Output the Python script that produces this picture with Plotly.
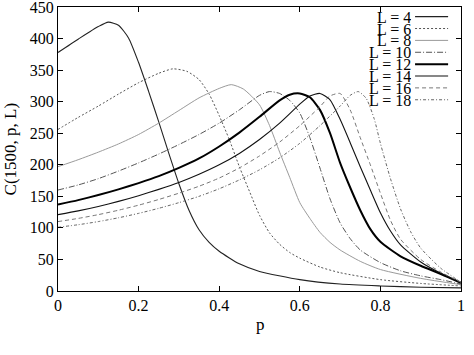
import plotly.graph_objects as go

# ---- data ----
L_values = [4, 6, 8, 10, 12, 14, 16, 18]

p4 = [0, 0.05, 0.1, 0.125, 0.15, 0.175, 0.2, 0.225, 0.25, 0.275, 0.3, 0.325, 0.35, 0.375, 0.4, 0.45, 0.5, 0.6, 0.7, 0.8, 0.9, 1.0]
C4 = [378, 399, 419, 426, 421, 401, 362, 316, 268, 218, 170, 128, 97, 77, 63, 43, 31, 18, 11, 8, 6, 5]

p6 = [0, 0.05, 0.1, 0.15, 0.2, 0.25, 0.285, 0.32, 0.35, 0.375, 0.4, 0.425, 0.45, 0.475, 0.5, 0.525, 0.55, 0.575, 0.6, 0.65, 0.7, 0.8, 0.9, 1.0]
C6 = [256, 275, 293, 312, 330, 345, 352, 348, 335, 312, 278, 240, 197, 158, 120, 92, 74, 61, 52, 38, 29, 18, 12, 8]

p8 = [0, 0.05, 0.1, 0.15, 0.2, 0.25, 0.3, 0.35, 0.4, 0.43, 0.46, 0.5, 0.525, 0.55, 0.575, 0.6, 0.625, 0.65, 0.675, 0.7, 0.75, 0.8, 0.9, 1.0]
C8 = [197, 208, 220, 233, 248, 266, 286, 306, 321, 327, 320, 295, 262, 220, 180, 140, 115, 93, 77, 65, 47, 34, 20, 10]

p10 = [0, 0.05, 0.1, 0.15, 0.2, 0.25, 0.3, 0.35, 0.4, 0.45, 0.5, 0.525, 0.55, 0.575, 0.6, 0.625, 0.65, 0.675, 0.7, 0.725, 0.75, 0.8, 0.85, 0.9, 0.95, 1.0]
C10 = [160, 168, 178, 190, 203, 217, 232, 248, 266, 287, 310, 316, 313, 302, 282, 243, 195, 146, 108, 83, 65, 45, 32, 24, 18, 11]

p12 = [0, 0.05, 0.1, 0.15, 0.2, 0.25, 0.3, 0.35, 0.4, 0.45, 0.5, 0.55, 0.575, 0.6, 0.625, 0.65, 0.675, 0.7, 0.725, 0.75, 0.775, 0.8, 0.85, 0.9, 0.95, 1.0]
C12 = [137, 144, 152, 161, 171, 182, 195, 210, 229, 251, 276, 302, 311, 313, 307, 287, 250, 203, 164, 128, 98, 78, 55, 40, 27, 13]

p14 = [0, 0.05, 0.1, 0.15, 0.2, 0.25, 0.3, 0.35, 0.4, 0.45, 0.5, 0.55, 0.6, 0.625, 0.65, 0.675, 0.7, 0.725, 0.75, 0.775, 0.8, 0.825, 0.85, 0.9, 0.95, 1.0]
C14 = [121, 127, 134, 142, 151, 161, 172, 185, 200, 218, 240, 266, 296, 309, 313, 303, 272, 235, 197, 160, 124, 95, 73, 46, 28, 13]

p16 = [0, 0.05, 0.1, 0.15, 0.2, 0.25, 0.3, 0.35, 0.4, 0.45, 0.5, 0.55, 0.6, 0.65, 0.675, 0.7, 0.725, 0.75, 0.775, 0.8, 0.825, 0.85, 0.9, 0.95, 1.0]
C16 = [110, 115, 121, 128, 136, 145, 155, 166, 179, 195, 214, 236, 262, 292, 309, 313, 287, 243, 200, 155, 112, 82, 50, 30, 14]

p18 = [0, 0.05, 0.1, 0.15, 0.2, 0.25, 0.3, 0.35, 0.4, 0.45, 0.5, 0.55, 0.6, 0.65, 0.7, 0.725, 0.745, 0.765, 0.785, 0.8, 0.825, 0.85, 0.875, 0.9, 0.95, 1.0]
C18 = [101, 105, 110, 116, 123, 131, 140, 150, 162, 176, 192, 211, 234, 262, 293, 310, 316, 305, 272, 234, 178, 130, 94, 68, 36, 14]

x_ticks = [0, 0.2, 0.4, 0.6, 0.8, 1]
x_tick_labels = ["0", "0.2", "0.4", "0.6", "0.8", "1"]
y_ticks = [0, 50, 100, 150, 200, 250, 300, 350, 400, 450]
x_title = "p"
y_title = "C(1500, p, L)"

series_p = [p4, p6, p8, p10, p12, p14, p16, p18]
series_C = [C4, C6, C8, C10, C12, C14, C16, C18]

# ---- styles ----
styles = [
    dict(color="#222222", width=1.1, dash="solid"),
    dict(color="#555555", width=1.0, dash="2px,2px"),
    dict(color="#9a9a9a", width=1.0, dash="solid"),
    dict(color="#555555", width=1.0, dash="6px,2px,1px,2px"),
    dict(color="#000000", width=2.0, dash="solid"),
    dict(color="#111111", width=1.1, dash="solid"),
    dict(color="#777777", width=1.0, dash="4px,3px"),
    dict(color="#666666", width=1.0, dash="3px,2px,1px,2px"),
]

FONT = "Liberation Serif, Times New Roman, serif"

fig = go.Figure()
for L, px, cy, st in zip(L_values, series_p, series_C, styles):
    fig.add_trace(go.Scatter(
        x=px, y=cy, mode="lines", name=f"L = {L}",
        line=dict(color=st["color"], width=st["width"], dash=st["dash"],
                  shape="spline", smoothing=0.6),
        showlegend=False,
    ))

# manual legend: text on the left, line sample on the right
row0 = 0.966
row_step = 0.0418
text_x = 0.878
line_x0, line_x1 = 0.886, 0.968
for i, (L, st) in enumerate(zip(L_values, styles)):
    yy = row0 - i * row_step
    fig.add_annotation(x=text_x, y=yy, xref="paper", yref="paper",
                       text=f"L = {L}", showarrow=False, xanchor="right",
                       yanchor="middle", font=dict(family=FONT, size=16, color="black"),
                       borderpad=0, height=12)
    fig.add_shape(type="line", xref="paper", yref="paper",
                  x0=line_x0, x1=line_x1, y0=yy, y1=yy,
                  line=dict(color=st["color"], width=st["width"], dash=st["dash"]))

# axis titles as annotations (placed like the reference)
fig.add_annotation(x=0.503, y=-0.118, xref="paper", yref="paper", text=x_title,
                   showarrow=False, xanchor="center", yanchor="middle",
                   font=dict(family=FONT, size=17, color="black"))
fig.add_annotation(x=-0.118, y=0.5, xref="paper", yref="paper", text=y_title,
                   showarrow=False, xanchor="center", yanchor="middle", textangle=-90,
                   font=dict(family=FONT, size=17, color="black"))

axis_common = dict(
    showline=True, linecolor="black", linewidth=1, mirror="ticks",
    ticks="inside", ticklen=5, tickcolor="black", tickwidth=1,
    showgrid=False, zeroline=False, automargin=False,
    ticklabeloverflow="allow",
    tickfont=dict(family=FONT, size=16, color="black"),
)

fig.update_xaxes(range=[0, 1], tickvals=x_ticks, ticktext=x_tick_labels, **axis_common)
fig.update_yaxes(range=[0, 450], tickvals=y_ticks, **axis_common)

fig.update_layout(
    width=474, height=355,
    margin=dict(l=58, r=13, t=7, b=64, pad=0),
    plot_bgcolor="white", paper_bgcolor="white",
    font=dict(family=FONT, color="black"),
)

fig.write_html("out.html", config={"displayModeBar": False},
               post_script="document.body.style.margin='0';document.body.style.overflow='hidden';")
